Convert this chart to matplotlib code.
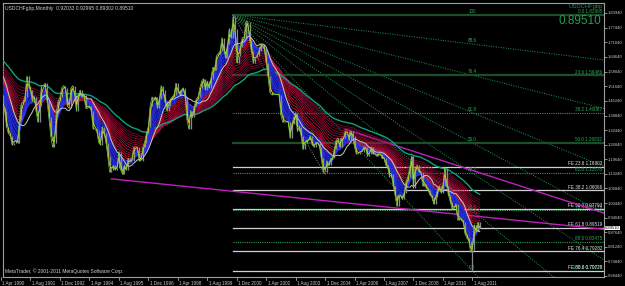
import numpy as np
import pandas as pd
import matplotlib
matplotlib.use("Agg")
import matplotlib.pyplot as plt
import matplotlib.transforms as mtransforms

# USDCHF monthly closes, Jan 1986 .. Dec 2011
close_1986 = [2.00, 1.92, 1.88, 1.78, 1.85, 1.78, 1.65, 1.64, 1.64, 1.70, 1.66, 1.62]
close_1987 = [1.52, 1.54, 1.50, 1.44, 1.47, 1.52, 1.54, 1.50, 1.49, 1.40, 1.31, 1.28]
close_1988 = [1.38, 1.38, 1.37, 1.40, 1.43, 1.48, 1.56, 1.60, 1.57, 1.45, 1.42, 1.50]
close_1989 = [1.58, 1.58, 1.66, 1.70, 1.78, 1.65, 1.62, 1.70, 1.64, 1.62, 1.57, 1.54]
close_1990 = [1.50, 1.50, 1.51, 1.48, 1.42, 1.41, 1.34, 1.31, 1.30, 1.26, 1.27, 1.28]
close_1991 = [1.27, 1.37, 1.44, 1.45, 1.47, 1.56, 1.52, 1.50, 1.45, 1.47, 1.41, 1.36]
close_1992 = [1.43, 1.52, 1.52, 1.53, 1.45, 1.38, 1.30, 1.25, 1.27, 1.40, 1.45, 1.47]
close_1993 = [1.51, 1.52, 1.51, 1.43, 1.42, 1.51, 1.52, 1.48, 1.41, 1.48, 1.50, 1.47]
close_1994 = [1.48, 1.42, 1.42, 1.43, 1.41, 1.33, 1.33, 1.32, 1.27, 1.26, 1.34, 1.31]
close_1995 = [1.27, 1.21, 1.14, 1.15, 1.17, 1.15, 1.16, 1.23, 1.15, 1.13, 1.17, 1.15]
close_1996 = [1.20, 1.19, 1.19, 1.25, 1.25, 1.25, 1.19, 1.19, 1.25, 1.27, 1.31, 1.34]
close_1997 = [1.43, 1.47, 1.46, 1.47, 1.42, 1.46, 1.52, 1.50, 1.45, 1.41, 1.43, 1.46]
close_1998 = [1.47, 1.48, 1.53, 1.50, 1.48, 1.50, 1.51, 1.47, 1.37, 1.33, 1.41, 1.38]
close_1999 = [1.43, 1.46, 1.47, 1.51, 1.54, 1.55, 1.50, 1.54, 1.51, 1.55, 1.60, 1.59]
close_2000 = [1.65, 1.66, 1.67, 1.73, 1.68, 1.64, 1.70, 1.77, 1.73, 1.82, 1.77, 1.62]
close_2001 = [1.65, 1.69, 1.73, 1.73, 1.80, 1.80, 1.72, 1.67, 1.62, 1.64, 1.65, 1.67]
close_2002 = [1.70, 1.70, 1.68, 1.62, 1.56, 1.49, 1.48, 1.48, 1.48, 1.48, 1.48, 1.39]
close_2003 = [1.36, 1.36, 1.36, 1.36, 1.29, 1.35, 1.38, 1.40, 1.32, 1.34, 1.30, 1.24]
close_2004 = [1.27, 1.28, 1.28, 1.30, 1.26, 1.25, 1.27, 1.27, 1.25, 1.20, 1.14, 1.14]
close_2005 = [1.19, 1.17, 1.20, 1.20, 1.24, 1.28, 1.29, 1.25, 1.29, 1.29, 1.32, 1.32]
close_2006 = [1.28, 1.32, 1.30, 1.25, 1.22, 1.22, 1.23, 1.23, 1.25, 1.25, 1.21, 1.22]
close_2007 = [1.25, 1.22, 1.22, 1.21, 1.22, 1.22, 1.20, 1.20, 1.17, 1.16, 1.12, 1.13]
close_2008 = [1.08, 1.04, 0.99, 1.04, 1.04, 1.02, 1.05, 1.10, 1.12, 1.16, 1.21, 1.07]
close_2009 = [1.16, 1.17, 1.14, 1.14, 1.08, 1.09, 1.07, 1.06, 1.04, 1.03, 1.00, 1.03]
close_2010 = [1.06, 1.08, 1.05, 1.08, 1.16, 1.08, 1.04, 1.01, 0.98, 0.98, 1.00, 0.93]
close_2011 = [0.94, 0.93, 0.92, 0.87, 0.85, 0.84, 0.79, 0.80, 0.91, 0.88, 0.92, 0.8951]

date_labels = ["1 Apr 1990", "1 Aug 1991", "1 Dec 1992", "1 Apr 1994", "1 Aug 1995",
               "1 Dec 1996", "1 Apr 1998", "1 Aug 1999", "1 Dec 2000", "1 Apr 2002",
               "1 Aug 2003", "1 Dec 2004", "1 Apr 2006", "1 Aug 2007", "1 Dec 2008",
               "1 Apr 2010", "1 Aug 2011"]
price_ticks = [1.83940, 1.77440, 1.71040, 1.64640, 1.58040, 1.51640, 1.45240, 1.38840,
               1.32440, 1.26040, 1.19640, 1.13240, 1.06840, 1.00440, 0.94040, 0.87640,
               0.81240, 0.74840, 0.68440]

# drawing tool anchors (month index, 0 = Apr 1990)
peak_month, peak_price = 126, 1.82995
low_month, low_price = 256, 0.70670
fe_b_month, fe_b_price = 176, 1.12880
fe_c_month, fe_c_price = 187, 1.32850
retr_levels = [0.0, 23.6, 38.2, 50.0, 61.8, 76.4, 88.6, 100.0]
fan_levels = [100.0, 88.6, 76.4, 61.8, 50.0, 38.2, 23.6, 0.0]
fe_levels = [23.6, 38.2, 50.0, 61.8, 76.4, 88.6]
trend1_months, trend1_prices = [60, 329], [1.1105, 0.8880]
trend2_months, trend2_prices = [187, 329], [1.3285, 0.9563]

blue_spans = [3, 4, 5, 6, 8, 10, 12]
red_spans = [12, 14, 16, 18, 20, 23, 26, 29, 32, 35, 38, 42, 46, 50]
red_colors = ["#ff3030", "#ff2040", "#f01830", "#e81050", "#e01040", "#d81850", "#d01048",
              "#c81040", "#c0104a", "#b80838", "#b00840", "#a80830", "#a00840", "#980838"]

close = pd.Series(np.concatenate([close_1986, close_1987, close_1988, close_1989, close_1990,
                                  close_1991, close_1992, close_1993, close_1994, close_1995,
                                  close_1996, close_1997, close_1998, close_1999, close_2000,
                                  close_2001, close_2002, close_2003, close_2004, close_2005,
                                  close_2006, close_2007, close_2008, close_2009, close_2010,
                                  close_2011]))
month = np.arange(len(close)) - 51
vis = month >= -1

X0, X1 = 1.1, 327.5
Y0, Y1 = 0.680, 1.882
SMALL = dict(family="Liberation Sans", fontsize=3.3)

fig = plt.figure(figsize=(6.25, 2.86), dpi=100, facecolor="black")
ax = fig.add_axes([3 / 625, 9 / 286, 601 / 625, 274 / 286], facecolor="black")
ax.set_xlim(X0, X1)
ax.set_ylim(Y0, Y1)

# fibonacci fan from the 2000 top through the 2011 low
for lv in fan_levels:
    p2 = low_price + lv / 100 * (peak_price - low_price)
    slope = (p2 - peak_price) / (low_month - peak_month)
    ax.plot([peak_month, X1], [peak_price, peak_price + slope * (X1 - peak_month)],
            color="#239a4c", lw=0.7, ls=(0, (1, 1.5)), zorder=1)
    ax.text(low_month, p2 + 0.004, "100" if lv == 100 else f"{lv:.1f}",
            color="#2ea860", ha="center", va="bottom", zorder=2, **SMALL)

# fibonacci retracement
rng = peak_price - low_price
for lv in retr_levels:
    p = peak_price - lv / 100 * rng
    heavy = lv in (0.0, 23.6, 50.0)
    ax.plot([peak_month, X1], [p, p], color="#1b4f27" if heavy else "#2a9a50",
            lw=1.6 if heavy else 0.8, ls="-" if heavy else (0, (1, 1)), zorder=1)
    ax.text(X1 - 1, p + 0.003, f"{lv:.1f} {p:.5f}", color="#2ea860",
            ha="right", va="bottom", zorder=2, **SMALL)

# fibonacci expansion
fe_rng = peak_price - fe_b_price
for lv in fe_levels:
    p = fe_c_price - lv / 100 * fe_rng
    ax.plot([peak_month, X1], [p, p], color="#d0d0d0", lw=0.9, zorder=1)
    ax.text(X1 - 1, p + 0.003, f"FE {lv:.1f} {p:.5f}", color="#e8e8e8",
            ha="right", va="bottom", zorder=2, **SMALL)
ax.plot([peak_month, fe_b_month, fe_c_month], [peak_price, fe_b_price, fe_c_price],
        color="#909090", lw=0.7, ls=(0, (1, 1.5)), zorder=1)

# trend lines
ax.plot(trend1_months, trend1_prices, color="#c020c0", lw=1.0, zorder=2)
ax.plot(trend2_months, trend2_prices, color="#c020c0", lw=1.0, zorder=2)

# moving averages
ema = {s: close.ewm(span=s, adjust=False).mean() for s in set(blue_spans + red_spans + [2, 60])}
sma = close.rolling(12, min_periods=1).mean()

for s, c in zip(red_spans, red_colors):
    ax.plot(month[vis], ema[s][vis], color=c, lw=0.45, zorder=3)
ax.plot(month[vis], ema[60][vis], color="#10a080", lw=1.0, zorder=3)

blue_lo = np.minimum.reduce([ema[s].values for s in blue_spans])
blue_hi = np.maximum.reduce([ema[s].values for s in blue_spans])
ax.fill_between(month[vis], blue_lo[vis], blue_hi[vis], color="#14148c", lw=0, zorder=3)
for s in blue_spans:
    ax.plot(month[vis], ema[s][vis], color="#2a3aff", lw=0.45, zorder=4)

# candle bodies (open = previous close)
opens = close.shift(1).bfill()
ax.vlines(month[vis], np.minimum(opens, close)[vis], np.maximum(opens, close)[vis],
          color="#8a8a8a", lw=0.9, zorder=4)
ax.vlines([peak_month, low_month], [close[peak_month + 51], low_price],
          [peak_price, close[low_month + 51]], color="#8a8a8a", lw=0.9, zorder=4)

ax.plot(month[vis], sma[vis], color="#c8c8c8", lw=0.7, zorder=5)
ax.plot(month[vis], ema[2][vis], color="#e8d020", lw=0.6, zorder=5)
ax.plot(month[vis], close[vis], color="#70d040", lw=0.5, zorder=5)

# axes styling
for side in ("left", "top", "bottom", "right"):
    ax.spines[side].set_color("#a0a0a0")
    ax.spines[side].set_linewidth(0.8)
ax.yaxis.tick_right()
ax.set_yticks(price_ticks)
ax.set_yticklabels([f"{p:.5f}" for p in price_ticks], family="Liberation Sans")
ax.tick_params(axis="y", colors="#c8c8c8", labelsize=3.0, length=2, width=0.5, pad=0.8)
ax.set_xticks([])

xt = mtransforms.blended_transform_factory(ax.transData, ax.transAxes)
for i, lab in enumerate(date_labels):
    mx = 16 * i
    ax.plot([mx, mx], [0, -0.012], color="#c8c8c8", lw=0.5, transform=xt, clip_on=False)
    ax.text(mx + 0.8, -0.016, lab, color="#c8c8c8", ha="left", va="top",
            transform=xt, clip_on=False, **SMALL)

yt = mtransforms.blended_transform_factory(ax.transAxes, ax.transData)
ax.text(1.002, close.iloc[-1], f"{close.iloc[-1]:.5f}", transform=yt,
        color="black", va="center", ha="left", family="Liberation Sans", fontsize=3.0,
        bbox=dict(boxstyle="square,pad=0.1", fc="white", ec="none"), zorder=10)

ax.text(0.004, 0.99, "USDCHFgbp,Monthly  0.92033 0.92995 0.89302 0.89510",
        transform=ax.transAxes, color="#d0d0d0", va="top", ha="left",
        family="Liberation Sans", fontsize=3.6)
ax.text(0.998, 0.995, "USDCHFgbp", transform=ax.transAxes, color="#2e8b57",
        va="top", ha="right", family="Liberation Sans", fontsize=4.2)
ax.text(0.995, 0.955, "0.89510", transform=ax.transAxes, color="#20a050",
        fontsize=8.5, va="top", ha="right", family="Liberation Sans")
ax.text(0.003, 0.012, "MetaTrader, \u00a9 2001-2011 MetaQuotes Software Corp.",
        transform=ax.transAxes, color="#d0d0d0", va="bottom", ha="left",
        family="Liberation Sans", fontsize=3.5)

fig.savefig("out.png", dpi=100, facecolor="black")
